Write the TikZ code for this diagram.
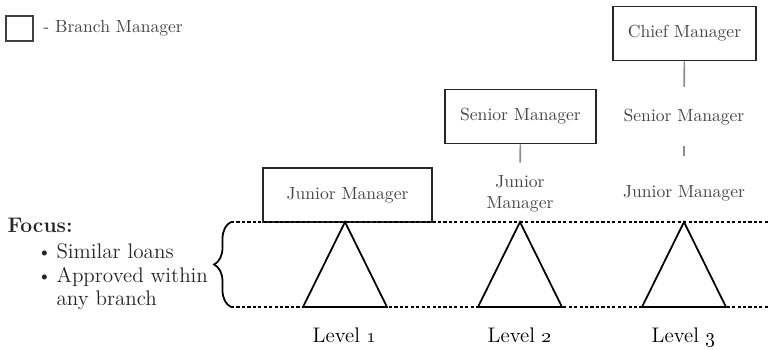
\documentclass[tikz,border=0pt]{standalone}
\usepackage{tikz}
\usetikzlibrary{positioning,decorations.pathreplacing}

\definecolor{mgrgray}{gray}{0.27}
\definecolor{linkgray}{gray}{0.55}

\begin{document}
\begin{tikzpicture}[x=0.02cm,y=-0.02cm,semithick,
  mgrbox/.style={draw=black!85,line width=1pt,minimum height=1.08cm,text=mgrgray,inner sep=2pt},
  mgrtext/.style={text=mgrgray,inner sep=2pt},
  link/.style={draw=linkgray,line width=0.9pt},
  levelline/.style={line width=1pt,dash pattern=on 1.8pt off 1.3pt},
  tri/.style={line width=1pt,line join=miter},
  focustext/.style={anchor=base west,inner sep=0pt,text=black!85,font=\large}]

\useasboundingbox (0,0) rectangle (769,349);

% legend
\node[draw=black!75,line width=1pt,minimum width=0.54cm,minimum height=0.5cm,inner sep=0pt] (Key) at (19.5,28.5) {};
\node[mgrtext] (KeyTxt) [right=0.11cm of Key] {- Branch Manager};

% managers
\node[mgrbox,minimum width=3.38cm] (JM1) at (347.5,195) {Junior Manager};

\node[mgrbox,minimum width=3.02cm] (SM2) at (520.5,116.5) {Senior Manager};
\node[mgrtext,align=center] (JM2) at (520,194) {Junior\\Manager};

\node[mgrbox,minimum width=2.86cm] (CM3) at (684.5,33.5) {Chief Manager};
\node[mgrtext] (SM3) at (684,117) {Senior Manager};
\node[mgrtext] (JM3) at (684,193) {Junior Manager};

\path (SM2) edge[link,shorten >=0.18cm] (JM2)
      (CM3) edge[link,shorten >=0.36cm] (SM3)
      (SM3) edge[link,shorten <=0.34cm,shorten >=0.5cm] (JM3);

% levels
\coordinate (TopL) at (231,222);
\coordinate (TopR) at (769,222);
\coordinate (BotL) at (231,307);
\coordinate (BotR) at (769,307);

\draw[levelline] (TopL) -- (TopR);
\draw[levelline] (BotL) -- (BotR);
\draw[decorate,decoration={brace,amplitude=0.34cm},line width=1pt] (BotL) -- (TopL);

\coordinate (Apex1) at (345,222);
\coordinate (Apex2) at (520,222);
\coordinate (Apex3) at (684,222);

\draw[tri] (Apex1) -- ++(-42,85) -- ++(84,0) -- cycle;
\draw[tri] (Apex2) -- ++(-42,85) -- ++(84,0) -- cycle;
\draw[tri] (Apex3) -- ++(-42,85) -- ++(84,0) -- cycle;

\node[anchor=base,font=\large] (Lvl1) at (345,342) {Level \oldstylenums{1}};
\node[anchor=base,font=\large] (Lvl2) at (520,342) {Level \oldstylenums{2}};
\node[anchor=base,font=\large] (Lvl3) at (684,342) {Level \oldstylenums{3}};

% focus
\node[focustext,font=\large\bfseries] (Focus) at (7,232) {Focus:};
\node[focustext,font=\normalsize] (Dot1) at (37,257) {\textbullet};
\node[focustext] (Item1) at (56,258) {Similar loans};
\node[focustext,font=\normalsize] (Dot2) at (37,281) {\textbullet};
\node[focustext] (Item2) at (56,282) {Approved within};
\node[focustext] (Item3) at (56,305) {any branch};

\end{tikzpicture}
\end{document}
